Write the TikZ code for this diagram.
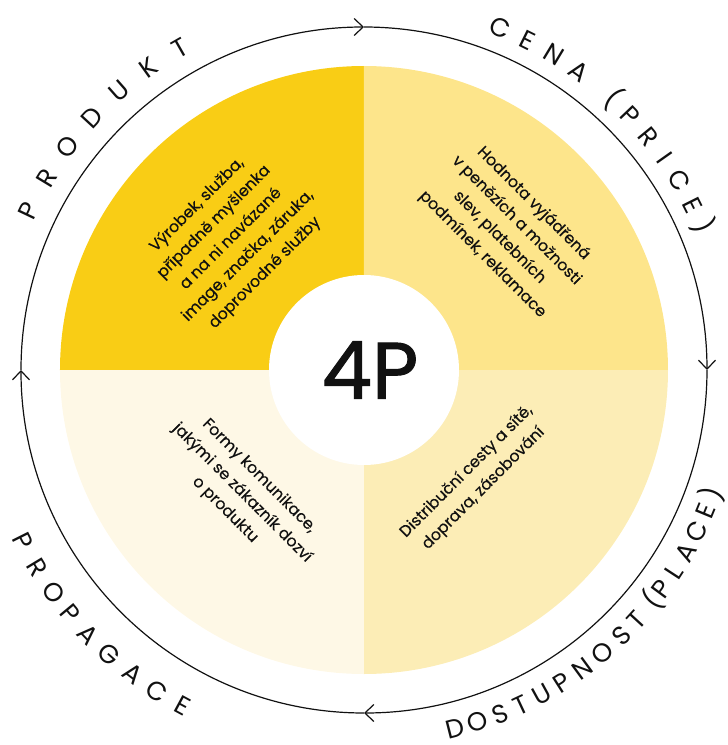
\documentclass[tikz,border=0pt]{standalone}
\usepackage{fontspec}
\setmainfont{Poppins}
\newfontfamily\bodyfont{Poppins}[FakeBold=0.4]
\newfontfamily\titlefont{Poppins}[FakeBold=1.2]
\usetikzlibrary{arrows.meta}
\definecolor{qprod}{HTML}{F9CD15}
\definecolor{qprice}{HTML}{FDE58B}
\definecolor{qplace}{HTML}{FCEDB6}
\definecolor{qpromo}{HTML}{FEF8E6}
\definecolor{ink}{HTML}{111111}

\begin{document}
\begin{tikzpicture}[x=1pt,y=1pt,
  quadtext/.style={align=center, font=\bodyfont\fontsize{15.8}{24}\selectfont, text=ink, inner sep=0pt},
  arclabel/.style={font=\fontsize{26}{26}\selectfont, text=ink, inner sep=0pt, anchor=base},
  ring/.style={line width=1.2pt, draw=ink, -{Straight Barb[length=9pt,width=17pt]}}]
\useasboundingbox (-364,-375) rectangle (364,370);

% four quadrants of the disk
\fill[qprod]  (0,0) -- (180:304) arc[start angle=180,end angle=90,radius=304] -- cycle;
\fill[qprice] (0,0) -- (90:304)  arc[start angle=90,end angle=0,radius=304] -- cycle;
\fill[qplace] (0,0) -- (0:304)   arc[start angle=0,end angle=-90,radius=304] -- cycle;
\fill[qpromo] (0,0) -- (-90:304) arc[start angle=-90,end angle=-180,radius=304] -- cycle;

% white hub with the title
\fill[white] (0,0) circle[radius=95];
\node[font=\titlefont\fontsize{80}{80}\selectfont, text=ink, inner sep=0pt] (core) at (6,0) {4P};

% outer ring, clockwise, one arrow per quarter
\draw[ring] (180:343) arc[start angle=180,end angle=90,radius=343];
\draw[ring] (90:343)  arc[start angle=90,end angle=0,radius=343];
\draw[ring] (0:343)   arc[start angle=0,end angle=-90,radius=343];
\draw[ring] (-90:343) arc[start angle=-90,end angle=-180,radius=343];

% quadrant descriptions
\node[quadtext, rotate=45] (prod) at (-133,131)
  {Výrobek, služba,\\případně myšlenka\\a na ni navázané\\image, značka, záruka,\\doprovodné služby};
\node[quadtext, rotate=-45] (price) at (144,141)
  {Hodnota vyjádřená\\v penězích a možnosti\\slev, platebních\\podmínek, reklamace};
\node[quadtext, rotate=45] (place) at (111,-110)
  {Distribuční cesty a sítě,\\doprava, zásobování};
\node[quadtext, rotate=-45] (promo) at (-122,-123)
  {Formy komunikace,\\jakými se zákazník dozví\\o produktu};

% spaced capitals along the ring
\foreach \ch/\a [count=\i] in {P/154.6, R/148.8, O/143.0, D/137.2, U/131.3, K/125.5, T/119.7}
  \node[arclabel, rotate=\a-90] (prodlbl\i) at (\a:362) {\ch};
\foreach \ch/\a [count=\i] in {C/68.2, E/63.6, N/58.9, A/54.2, {(}/47.4, P/43.7, R/39.3, I/35.2, C/31.0, E/26.6, {)}/23.0}
  \node[arclabel, rotate=\a-90] (pricelbl\i) at (\a:359) {\ch};
\foreach \ch/\a [count=\i] in {D/-75.8, O/-72.2, S/-68.4, T/-64.9, U/-61.3, P/-57.6, N/-53.8, O/-49.8, S/-45.9, T/-42.6, {(}/-38.6, P/-36.4, L/-33.1, A/-29.5, C/-25.9, E/-22.4, {)}/-19.6}
  \node[arclabel, rotate=\a+90] (placelbl\i) at (\a:379) {\ch};
\foreach \ch/\a [count=\i] in {P/206.6, R/211.2, O/215.6, P/219.7, A/223.8, G/228.2, A/232.7, C/237.2, E/241.6}
  \node[arclabel, rotate=\a+90] (promolbl\i) at (\a:391) {\ch};
\end{tikzpicture}
\end{document}
